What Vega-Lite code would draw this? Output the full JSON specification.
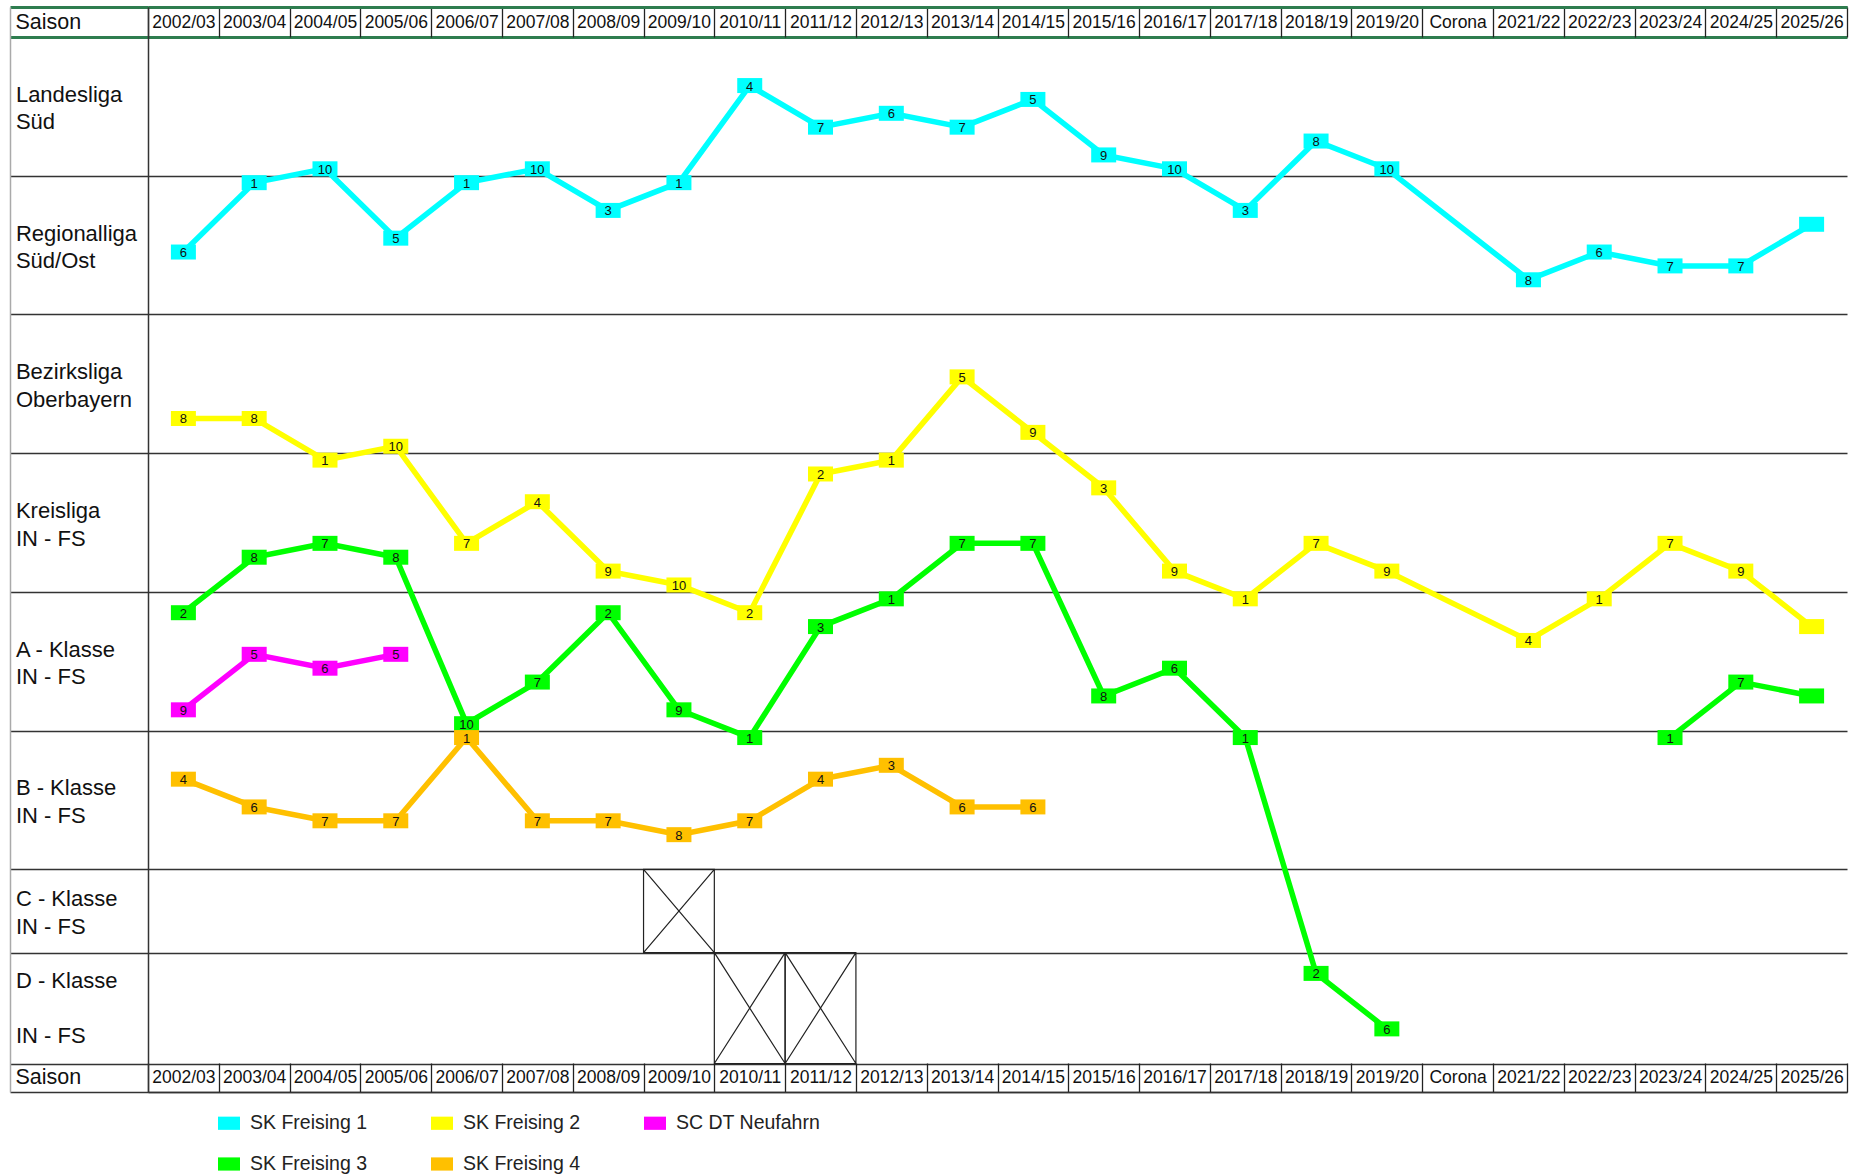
{
  "$schema": "https://vega.github.io/schema/vega-lite/v6.json",
  "width": 1699,
  "height": 1085,
  "autosize": {"type": "none"},
  "padding": {"left": 148, "top": 7, "right": 9, "bottom": 84},
  "background": "white",
  "config": {"view": {"stroke": null}, "font": "Liberation Sans"},
  "datasets": {
    "platzierungen": [
      {"team": "SK Freising 1", "linie": "F1", "saison": "2002/03", "liga": "Regionalliga Süd/Ost", "platz": 6, "gesamtrang": 16},
      {"team": "SK Freising 1", "linie": "F1", "saison": "2003/04", "liga": "Regionalliga Süd/Ost", "platz": 1, "gesamtrang": 11},
      {"team": "SK Freising 1", "linie": "F1", "saison": "2004/05", "liga": "Landesliga Süd", "platz": 10, "gesamtrang": 10},
      {"team": "SK Freising 1", "linie": "F1", "saison": "2005/06", "liga": "Regionalliga Süd/Ost", "platz": 5, "gesamtrang": 15},
      {"team": "SK Freising 1", "linie": "F1", "saison": "2006/07", "liga": "Regionalliga Süd/Ost", "platz": 1, "gesamtrang": 11},
      {"team": "SK Freising 1", "linie": "F1", "saison": "2007/08", "liga": "Landesliga Süd", "platz": 10, "gesamtrang": 10},
      {"team": "SK Freising 1", "linie": "F1", "saison": "2008/09", "liga": "Regionalliga Süd/Ost", "platz": 3, "gesamtrang": 13},
      {"team": "SK Freising 1", "linie": "F1", "saison": "2009/10", "liga": "Regionalliga Süd/Ost", "platz": 1, "gesamtrang": 11},
      {"team": "SK Freising 1", "linie": "F1", "saison": "2010/11", "liga": "Landesliga Süd", "platz": 4, "gesamtrang": 4},
      {"team": "SK Freising 1", "linie": "F1", "saison": "2011/12", "liga": "Landesliga Süd", "platz": 7, "gesamtrang": 7},
      {"team": "SK Freising 1", "linie": "F1", "saison": "2012/13", "liga": "Landesliga Süd", "platz": 6, "gesamtrang": 6},
      {"team": "SK Freising 1", "linie": "F1", "saison": "2013/14", "liga": "Landesliga Süd", "platz": 7, "gesamtrang": 7},
      {"team": "SK Freising 1", "linie": "F1", "saison": "2014/15", "liga": "Landesliga Süd", "platz": 5, "gesamtrang": 5},
      {"team": "SK Freising 1", "linie": "F1", "saison": "2015/16", "liga": "Landesliga Süd", "platz": 9, "gesamtrang": 9},
      {"team": "SK Freising 1", "linie": "F1", "saison": "2016/17", "liga": "Landesliga Süd", "platz": 10, "gesamtrang": 10},
      {"team": "SK Freising 1", "linie": "F1", "saison": "2017/18", "liga": "Regionalliga Süd/Ost", "platz": 3, "gesamtrang": 13},
      {"team": "SK Freising 1", "linie": "F1", "saison": "2018/19", "liga": "Landesliga Süd", "platz": 8, "gesamtrang": 8},
      {"team": "SK Freising 1", "linie": "F1", "saison": "2019/20", "liga": "Landesliga Süd", "platz": 10, "gesamtrang": 10},
      {"team": "SK Freising 1", "linie": "F1", "saison": "2021/22", "liga": "Regionalliga Süd/Ost", "platz": 8, "gesamtrang": 18},
      {"team": "SK Freising 1", "linie": "F1", "saison": "2022/23", "liga": "Regionalliga Süd/Ost", "platz": 6, "gesamtrang": 16},
      {"team": "SK Freising 1", "linie": "F1", "saison": "2023/24", "liga": "Regionalliga Süd/Ost", "platz": 7, "gesamtrang": 17},
      {"team": "SK Freising 1", "linie": "F1", "saison": "2024/25", "liga": "Regionalliga Süd/Ost", "platz": 7, "gesamtrang": 17},
      {"team": "SK Freising 1", "linie": "F1", "saison": "2025/26", "liga": "Regionalliga Süd/Ost", "platz": 4, "gesamtrang": 14, "offen": true},

      {"team": "SK Freising 2", "linie": "F2", "saison": "2002/03", "liga": "Bezirksliga Oberbayern", "platz": 8, "gesamtrang": 28},
      {"team": "SK Freising 2", "linie": "F2", "saison": "2003/04", "liga": "Bezirksliga Oberbayern", "platz": 8, "gesamtrang": 28},
      {"team": "SK Freising 2", "linie": "F2", "saison": "2004/05", "liga": "Kreisliga IN - FS", "platz": 1, "gesamtrang": 31},
      {"team": "SK Freising 2", "linie": "F2", "saison": "2005/06", "liga": "Bezirksliga Oberbayern", "platz": 10, "gesamtrang": 30},
      {"team": "SK Freising 2", "linie": "F2", "saison": "2006/07", "liga": "Kreisliga IN - FS", "platz": 7, "gesamtrang": 37},
      {"team": "SK Freising 2", "linie": "F2", "saison": "2007/08", "liga": "Kreisliga IN - FS", "platz": 4, "gesamtrang": 34},
      {"team": "SK Freising 2", "linie": "F2", "saison": "2008/09", "liga": "Kreisliga IN - FS", "platz": 9, "gesamtrang": 39},
      {"team": "SK Freising 2", "linie": "F2", "saison": "2009/10", "liga": "Kreisliga IN - FS", "platz": 10, "gesamtrang": 40},
      {"team": "SK Freising 2", "linie": "F2", "saison": "2010/11", "liga": "A - Klasse IN - FS", "platz": 2, "gesamtrang": 42},
      {"team": "SK Freising 2", "linie": "F2", "saison": "2011/12", "liga": "Kreisliga IN - FS", "platz": 2, "gesamtrang": 32},
      {"team": "SK Freising 2", "linie": "F2", "saison": "2012/13", "liga": "Kreisliga IN - FS", "platz": 1, "gesamtrang": 31},
      {"team": "SK Freising 2", "linie": "F2", "saison": "2013/14", "liga": "Bezirksliga Oberbayern", "platz": 5, "gesamtrang": 25},
      {"team": "SK Freising 2", "linie": "F2", "saison": "2014/15", "liga": "Bezirksliga Oberbayern", "platz": 9, "gesamtrang": 29},
      {"team": "SK Freising 2", "linie": "F2", "saison": "2015/16", "liga": "Kreisliga IN - FS", "platz": 3, "gesamtrang": 33},
      {"team": "SK Freising 2", "linie": "F2", "saison": "2016/17", "liga": "Kreisliga IN - FS", "platz": 9, "gesamtrang": 39},
      {"team": "SK Freising 2", "linie": "F2", "saison": "2017/18", "liga": "A - Klasse IN - FS", "platz": 1, "gesamtrang": 41},
      {"team": "SK Freising 2", "linie": "F2", "saison": "2018/19", "liga": "Kreisliga IN - FS", "platz": 7, "gesamtrang": 37},
      {"team": "SK Freising 2", "linie": "F2", "saison": "2019/20", "liga": "Kreisliga IN - FS", "platz": 9, "gesamtrang": 39},
      {"team": "SK Freising 2", "linie": "F2", "saison": "2021/22", "liga": "A - Klasse IN - FS", "platz": 4, "gesamtrang": 44},
      {"team": "SK Freising 2", "linie": "F2", "saison": "2022/23", "liga": "A - Klasse IN - FS", "platz": 1, "gesamtrang": 41},
      {"team": "SK Freising 2", "linie": "F2", "saison": "2023/24", "liga": "Kreisliga IN - FS", "platz": 7, "gesamtrang": 37},
      {"team": "SK Freising 2", "linie": "F2", "saison": "2024/25", "liga": "Kreisliga IN - FS", "platz": 9, "gesamtrang": 39},
      {"team": "SK Freising 2", "linie": "F2", "saison": "2025/26", "liga": "A - Klasse IN - FS", "platz": 3, "gesamtrang": 43, "offen": true},

      {"team": "SC DT Neufahrn", "linie": "N", "saison": "2002/03", "liga": "A - Klasse IN - FS", "platz": 9, "gesamtrang": 49},
      {"team": "SC DT Neufahrn", "linie": "N", "saison": "2003/04", "liga": "A - Klasse IN - FS", "platz": 5, "gesamtrang": 45},
      {"team": "SC DT Neufahrn", "linie": "N", "saison": "2004/05", "liga": "A - Klasse IN - FS", "platz": 6, "gesamtrang": 46},
      {"team": "SC DT Neufahrn", "linie": "N", "saison": "2005/06", "liga": "A - Klasse IN - FS", "platz": 5, "gesamtrang": 45},

      {"team": "SK Freising 3", "linie": "F3a", "saison": "2002/03", "liga": "A - Klasse IN - FS", "platz": 2, "gesamtrang": 42},
      {"team": "SK Freising 3", "linie": "F3a", "saison": "2003/04", "liga": "Kreisliga IN - FS", "platz": 8, "gesamtrang": 38},
      {"team": "SK Freising 3", "linie": "F3a", "saison": "2004/05", "liga": "Kreisliga IN - FS", "platz": 7, "gesamtrang": 37},
      {"team": "SK Freising 3", "linie": "F3a", "saison": "2005/06", "liga": "Kreisliga IN - FS", "platz": 8, "gesamtrang": 38},
      {"team": "SK Freising 3", "linie": "F3a", "saison": "2006/07", "liga": "A - Klasse IN - FS", "platz": 10, "gesamtrang": 50},
      {"team": "SK Freising 3", "linie": "F3a", "saison": "2007/08", "liga": "A - Klasse IN - FS", "platz": 7, "gesamtrang": 47},
      {"team": "SK Freising 3", "linie": "F3a", "saison": "2008/09", "liga": "A - Klasse IN - FS", "platz": 2, "gesamtrang": 42},
      {"team": "SK Freising 3", "linie": "F3a", "saison": "2009/10", "liga": "A - Klasse IN - FS", "platz": 9, "gesamtrang": 49},
      {"team": "SK Freising 3", "linie": "F3a", "saison": "2010/11", "liga": "B - Klasse IN - FS", "platz": 1, "gesamtrang": 51},
      {"team": "SK Freising 3", "linie": "F3a", "saison": "2011/12", "liga": "A - Klasse IN - FS", "platz": 3, "gesamtrang": 43},
      {"team": "SK Freising 3", "linie": "F3a", "saison": "2012/13", "liga": "A - Klasse IN - FS", "platz": 1, "gesamtrang": 41},
      {"team": "SK Freising 3", "linie": "F3a", "saison": "2013/14", "liga": "Kreisliga IN - FS", "platz": 7, "gesamtrang": 37},
      {"team": "SK Freising 3", "linie": "F3a", "saison": "2014/15", "liga": "Kreisliga IN - FS", "platz": 7, "gesamtrang": 37},
      {"team": "SK Freising 3", "linie": "F3a", "saison": "2015/16", "liga": "A - Klasse IN - FS", "platz": 8, "gesamtrang": 48},
      {"team": "SK Freising 3", "linie": "F3a", "saison": "2016/17", "liga": "A - Klasse IN - FS", "platz": 6, "gesamtrang": 46},
      {"team": "SK Freising 3", "linie": "F3a", "saison": "2017/18", "liga": "B - Klasse IN - FS", "platz": 1, "gesamtrang": 51},
      {"team": "SK Freising 3", "linie": "F3a", "saison": "2018/19", "liga": "D - Klasse IN - FS", "platz": 2, "gesamtrang": 68},
      {"team": "SK Freising 3", "linie": "F3a", "saison": "2019/20", "liga": "D - Klasse IN - FS", "platz": 6, "gesamtrang": 72},
      {"team": "SK Freising 3", "linie": "F3b", "saison": "2023/24", "liga": "B - Klasse IN - FS", "platz": 1, "gesamtrang": 51},
      {"team": "SK Freising 3", "linie": "F3b", "saison": "2024/25", "liga": "A - Klasse IN - FS", "platz": 7, "gesamtrang": 47},
      {"team": "SK Freising 3", "linie": "F3b", "saison": "2025/26", "liga": "A - Klasse IN - FS", "platz": 8, "gesamtrang": 48, "offen": true},

      {"team": "SK Freising 4", "linie": "F4", "saison": "2002/03", "liga": "B - Klasse IN - FS", "platz": 4, "gesamtrang": 54},
      {"team": "SK Freising 4", "linie": "F4", "saison": "2003/04", "liga": "B - Klasse IN - FS", "platz": 6, "gesamtrang": 56},
      {"team": "SK Freising 4", "linie": "F4", "saison": "2004/05", "liga": "B - Klasse IN - FS", "platz": 7, "gesamtrang": 57},
      {"team": "SK Freising 4", "linie": "F4", "saison": "2005/06", "liga": "B - Klasse IN - FS", "platz": 7, "gesamtrang": 57},
      {"team": "SK Freising 4", "linie": "F4", "saison": "2006/07", "liga": "B - Klasse IN - FS", "platz": 1, "gesamtrang": 51},
      {"team": "SK Freising 4", "linie": "F4", "saison": "2007/08", "liga": "B - Klasse IN - FS", "platz": 7, "gesamtrang": 57},
      {"team": "SK Freising 4", "linie": "F4", "saison": "2008/09", "liga": "B - Klasse IN - FS", "platz": 7, "gesamtrang": 57},
      {"team": "SK Freising 4", "linie": "F4", "saison": "2009/10", "liga": "B - Klasse IN - FS", "platz": 8, "gesamtrang": 58},
      {"team": "SK Freising 4", "linie": "F4", "saison": "2010/11", "liga": "B - Klasse IN - FS", "platz": 7, "gesamtrang": 57},
      {"team": "SK Freising 4", "linie": "F4", "saison": "2011/12", "liga": "B - Klasse IN - FS", "platz": 4, "gesamtrang": 54},
      {"team": "SK Freising 4", "linie": "F4", "saison": "2012/13", "liga": "B - Klasse IN - FS", "platz": 3, "gesamtrang": 53},
      {"team": "SK Freising 4", "linie": "F4", "saison": "2013/14", "liga": "B - Klasse IN - FS", "platz": 6, "gesamtrang": 56},
      {"team": "SK Freising 4", "linie": "F4", "saison": "2014/15", "liga": "B - Klasse IN - FS", "platz": 6, "gesamtrang": 56}
    ],
    "felder": [
      {"saison": "2009/10", "liga": "C - Klasse IN - FS", "gesamtrang": 63.5},
      {"saison": "2010/11", "liga": "D - Klasse IN - FS", "gesamtrang": 70.5},
      {"saison": "2011/12", "liga": "D - Klasse IN - FS", "gesamtrang": 70.5}
    ]
  },
  "data": {"name": "platzierungen"},
  "layer": [
    {
      "mark": {"type": "line", "strokeWidth": 5.5},
      "encoding": {
        "x": {
          "field": "saison", "type": "ordinal",
          "scale": {"type": "band", "domain": ["2002/03","2003/04","2004/05","2005/06","2006/07","2007/08","2008/09","2009/10","2010/11","2011/12","2012/13","2013/14","2014/15","2015/16","2016/17","2017/18","2018/19","2019/20","Corona","2021/22","2022/23","2023/24","2024/25","2025/26"], "paddingInner": 0, "paddingOuter": 0},
          "axis": {
            "orient": "top", "title": "Saison", "titleX": -133, "titleY": 15, "titleAlign": "left", "titleBaseline": "middle", "titleAngle": 0,
            "titleFontSize": 21.5, "titleFontWeight": "normal", "titleColor": "#111", "titleFont": "Liberation Sans",
            "domain": true, "domainColor": "#2E7D4F", "domainWidth": 3,
            "ticks": true, "tickBand": "extent", "tickSize": -30, "tickColor": "#222", "tickWidth": 1.3,
            "labels": true, "labelFont": "Liberation Sans", "labelFontSize": 17.5, "labelColor": "#111", "labelBaseline": "middle", "labelAlign": "center", "labelAngle": 0, "labelPadding": 15, "labelOverlap": false,
            "grid": false
          }
        },
        "y": {
          "field": "gesamtrang", "type": "quantitative",
          "scale": {"domain": [-1.663, 76.55], "nice": false, "zero": false, "reverse": true},
          "axis": {
            "orient": "left", "title": null,
            "values": [-1.663, 0.5, 5.5, 10.5, 15.5, 20.5, 25.5, 30.5, 35.5, 40.5, 45.5, 50.5, 55.5, 60.5, 63.5, 66.5, 68.5, 72.5, 74.5, 76.55],
            "domain": true, "domainColor": "#333", "domainWidth": 1.5,
            "ticks": true, "tickSize": 138,
            "tickColor": {"condition": {"test": "datum.value < 1", "value": "#2E7D4F"}, "value": "#333"},
            "tickWidth": {"condition": {"test": "datum.value < 1", "value": 3}, "value": 1.3},
            "tickOpacity": {"condition": {"test": "indexof([5.5, 15.5, 25.5, 35.5, 45.5, 55.5, 63.5, 68.5, 72.5], datum.value) >= 0", "value": 0}, "value": 1},
            "grid": true,
            "gridColor": {"condition": {"test": "datum.value < 1", "value": "#2E7D4F"}, "value": "#333"},
            "gridWidth": {"condition": {"test": "datum.value < 1", "value": 3}, "value": 1.3},
            "gridOpacity": {"condition": {"test": "indexof([5.5, 15.5, 25.5, 35.5, 45.5, 55.5, 63.5, 68.5, 72.5], datum.value) >= 0", "value": 0}, "value": 1},
            "labelExpr": "datum.value == 5.5 ? ['Landesliga','Süd'] : datum.value == 15.5 ? ['Regionalliga','Süd/Ost'] : datum.value == 25.5 ? ['Bezirksliga','Oberbayern'] : datum.value == 35.5 ? ['Kreisliga','IN - FS'] : datum.value == 45.5 ? ['A - Klasse','IN - FS'] : datum.value == 55.5 ? ['B - Klasse','IN - FS'] : datum.value == 63.5 ? ['C - Klasse','IN - FS'] : datum.value == 68.5 ? 'D - Klasse' : datum.value == 72.5 ? 'IN - FS' : ''",
            "labelOffset": {"condition": {"test": "datum.value == 68.5 || datum.value == 72.5", "value": 0}, "value": -12},
            "labelAlign": "left", "labelBaseline": "middle", "labelPadding": -5.4,
            "labelFont": "Liberation Sans", "labelFontSize": 22, "labelLineHeight": 27.5, "labelColor": "#111",
            "labelOverlap": false, "labelFlush": false, "labelBound": false, "labelLimit": 300
          }
        },
        "stroke": {
          "field": "team", "type": "nominal",
          "scale": {"domain": ["SK Freising 1", "SK Freising 2", "SC DT Neufahrn", "SK Freising 3", "SK Freising 4"], "range": ["#00FFFF", "#FFFF00", "#FF00FF", "#00FF00", "#FFC000"]},
          "legend": {
            "orient": "none", "legendX": 70, "legendY": 1105, "direction": "horizontal", "columns": 3, "title": null,
            "symbolType": "M-1,-0.6H1V0.6H-1Z", "symbolSize": 484, "symbolStrokeWidth": 0,
            "labelFont": "Liberation Sans", "labelFontSize": 19.5, "labelColor": "#222", "labelOffset": 10,
            "columnPadding": 36, "rowPadding": 20, "gridAlign": "all"
          }
        },
        "detail": {"field": "linie", "type": "nominal"}
      }
    },
    {
      "mark": {"type": "point", "filled": true, "opacity": 1, "shape": "M-1,-0.6H1V0.6H-1Z", "size": 625, "strokeWidth": 0},
      "encoding": {
        "x": {
          "field": "saison", "type": "ordinal",
          "axis": {
            "orient": "bottom", "title": "Saison", "titleX": -133, "titleY": -14.5, "titleAlign": "left", "titleBaseline": "middle", "titleAngle": 0,
            "titleFontSize": 21.5, "titleFontWeight": "normal", "titleColor": "#111", "titleFont": "Liberation Sans",
            "domain": true, "domainColor": "#333", "domainWidth": 1.5,
            "ticks": true, "tickBand": "extent", "tickSize": -29, "tickColor": "#222", "tickWidth": 1.3,
            "labels": true, "labelFont": "Liberation Sans", "labelFontSize": 17.5, "labelColor": "#111", "labelBaseline": "middle", "labelAlign": "center", "labelAngle": 0, "labelPadding": 14.5, "labelOverlap": false,
            "grid": false
          }
        },
        "y": {
          "field": "gesamtrang", "type": "quantitative",
          "axis": {"orient": "left", "offset": 138, "title": null, "domain": true, "domainColor": "#AAAAAA", "domainWidth": 1.5, "ticks": false, "labels": false, "grid": false}
        },
        "fill": {
          "field": "team", "type": "nominal",
          "scale": {"domain": ["SK Freising 1", "SK Freising 2", "SC DT Neufahrn", "SK Freising 3", "SK Freising 4"], "range": ["#00FFFF", "#FFFF00", "#FF00FF", "#00FF00", "#FFC000"]},
          "legend": {
            "orient": "none", "legendX": 70, "legendY": 1105, "direction": "horizontal", "columns": 3, "title": null,
            "symbolType": "M-1,-0.6H1V0.6H-1Z", "symbolSize": 484, "symbolStrokeWidth": 0,
            "labelFont": "Liberation Sans", "labelFontSize": 19.5, "labelColor": "#222", "labelOffset": 10,
            "columnPadding": 36, "rowPadding": 20, "gridAlign": "all"
          }
        }
      }
    },
    {
      "transform": [{"filter": "!datum.offen"}],
      "mark": {"type": "text", "fontSize": 13, "font": "Liberation Sans", "color": "#111", "baseline": "middle", "align": "center", "dy": 1},
      "encoding": {
        "x": {"field": "saison", "type": "ordinal", "axis": null},
        "y": {"field": "gesamtrang", "type": "quantitative", "axis": null},
        "text": {"field": "platz", "type": "quantitative"}
      }
    },
    {
      "data": {"name": "felder"},
      "mark": {"type": "point", "filled": false, "opacity": 1, "color": "#222", "strokeWidth": 1.2, "size": 5011},
      "encoding": {
        "x": {"field": "saison", "type": "ordinal", "axis": null},
        "y": {"field": "gesamtrang", "type": "quantitative", "axis": null},
        "shape": {
          "field": "liga", "type": "nominal",
          "scale": {"domain": ["C - Klasse IN - FS", "D - Klasse IN - FS"], "range": ["M-1,-1.1754H1V1.1754H-1ZM-1,-1.1754L1,1.1754M1,-1.1754L-1,1.1754", "M-1,-1.567H1V1.567H-1ZM-1,-1.567L1,1.567M1,-1.567L-1,1.567"]},
          "legend": null
        }
      }
    }
  ],
  "resolve": {"axis": {"x": "independent", "y": "independent"}}
}
